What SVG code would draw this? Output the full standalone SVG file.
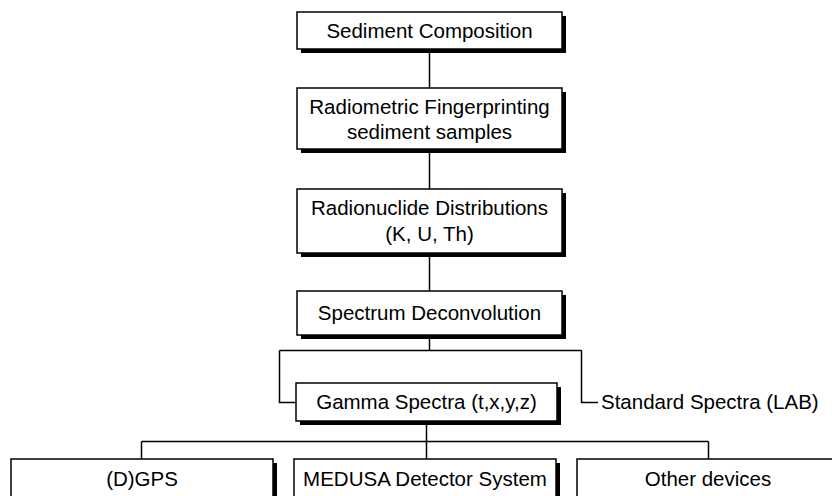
<svg xmlns="http://www.w3.org/2000/svg" width="832" height="496" viewBox="0 0 832 496">
<defs>
<style>
.shadow{fill:#000}
.box{fill:#fff;stroke:#000;stroke-width:1.5}
.t{font-family:"Liberation Sans",Arial,sans-serif;font-size:20.5px;fill:#000;text-anchor:middle}
.ts{font-family:"Liberation Sans",Arial,sans-serif;font-size:20.5px;fill:#000;text-anchor:start}
.c{fill:none;stroke:#000;stroke-width:1.5}
</style>
</defs>
<rect width="832" height="496" fill="#fff"/>
<g id="connectors">
<path class="c" d="M429.5 49V88"/>
<path class="c" d="M429.5 149V189"/>
<path class="c" d="M429.5 253V291"/>
<path class="c" d="M429.5 335V350.5"/>
<path class="c" d="M279.5 350.5H581.5"/>
<path class="c" d="M279.5 350.5V402.5H296"/>
<path class="c" d="M581.5 350.5V402.5H598"/>
<path class="c" d="M426.5 421V441.5"/>
<path class="c" d="M141.5 441.5H708.5"/>
<path class="c" d="M141.5 441.5V459"/>
<path class="c" d="M426.5 441.5V459"/>
<path class="c" d="M708.5 441.5V459"/>
</g>
<g id="n1">
<rect class="shadow" x="301" y="16" width="265" height="37"/>
<rect class="box" x="297" y="12" width="265" height="37"/>
<text class="t" x="429.5" y="38">Sediment Composition</text>
</g>
<g id="n2">
<rect class="shadow" x="301" y="92" width="265" height="61"/>
<rect class="box" x="297" y="88" width="265" height="61"/>
<text class="t" x="429.5" y="114">Radiometric Fingerprinting</text>
<text class="t" x="429.5" y="139">sediment samples</text>
</g>
<g id="n3">
<rect class="shadow" x="301" y="193" width="265" height="64"/>
<rect class="box" x="297" y="189" width="265" height="64"/>
<text class="t" x="429.5" y="215">Radionuclide Distributions</text>
<text class="t" x="429.5" y="241">(K, U, Th)</text>
</g>
<g id="n4">
<rect class="shadow" x="301" y="295" width="265" height="44"/>
<rect class="box" x="297" y="291" width="265" height="44"/>
<text class="t" x="429.5" y="320">Spectrum Deconvolution</text>
</g>
<g id="n5">
<rect class="shadow" x="300" y="387" width="261" height="38"/>
<rect class="box" x="296" y="383" width="261" height="38"/>
<text class="t" x="426.5" y="409">Gamma Spectra (t,x,y,z)</text>
</g>
<g id="n6">
<text class="ts" x="601" y="409">Standard Spectra (LAB)</text>
</g>
<g id="n7">
<rect class="shadow" x="15" y="463" width="262" height="60"/>
<rect class="box" x="11" y="459" width="262" height="60"/>
<text class="t" x="142" y="486">(D)GPS</text>
</g>
<g id="n8">
<rect class="shadow" x="298" y="463" width="262" height="60"/>
<rect class="box" x="294" y="459" width="262" height="60"/>
<text class="t" x="425" y="486">MEDUSA Detector System</text>
</g>
<g id="n9">
<rect class="shadow" x="581" y="463" width="262" height="60"/>
<rect class="box" x="577" y="459" width="262" height="60"/>
<text class="t" x="708" y="486">Other devices</text>
</g>
</svg>
